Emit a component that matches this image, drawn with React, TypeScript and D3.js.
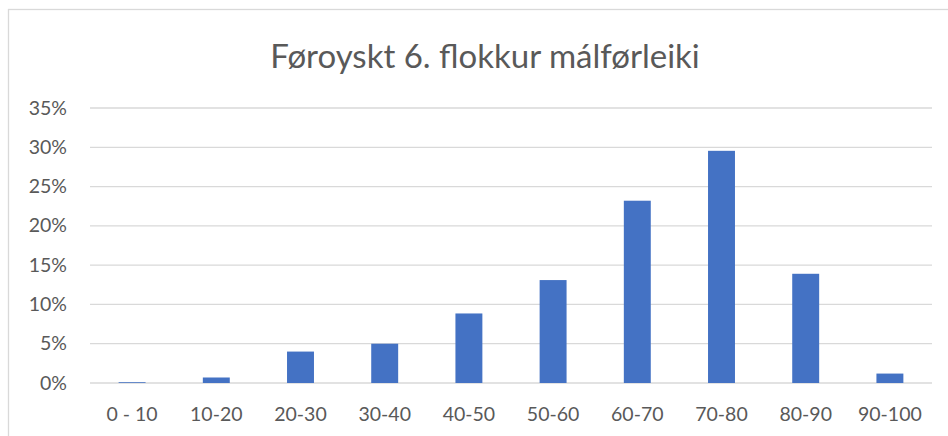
import React, { useEffect, useRef } from 'react';
import * as d3 from 'd3';

const title = 'Føroyskt 6. flokkur málførleiki';
const categories = ['0 - 10', '10-20', '20-30', '30-40', '40-50', '50-60', '60-70', '70-80', '80-90', '90-100'];
const shares = [0.001, 0.007, 0.040, 0.050, 0.0885, 0.131, 0.232, 0.2955, 0.139, 0.012];
const yTicks = [0, 0.05, 0.1, 0.15, 0.2, 0.25, 0.3, 0.35];

const W = 948, H = 436;
const font = 'Lato, "Open Sans", sans-serif';

function draw(node: SVGSVGElement) {
  const svg = d3.select(node);
  svg.selectAll('*').remove();

  const margin = { top: 108, right: 16, bottom: 53, left: 90 };

  // chart frame (right/bottom edges fall outside the picture)
  svg.append('rect')
     .attr('x', 8.5).attr('y', 9.5)
     .attr('width', W).attr('height', H)
     .attr('fill', 'white')
     .attr('stroke', '#d9d9d9')
     .attr('stroke-width', 1.3);

  svg.append('text')
     .attr('x', 485).attr('y', 68)
     .attr('text-anchor', 'middle')
     .attr('font-family', font)
     .attr('font-size', 33)
     .attr('fill', '#595959')
     .text(title);

  const x = d3.scaleBand()
              .domain(categories)
              .range([margin.left, W - margin.right])
              .paddingInner(0.68)
              .paddingOuter(0.34);

  const y = d3.scaleLinear()
              .domain([0, 0.35])
              .range([H - margin.bottom, margin.top]);

  const grid = svg.append('g');
  grid.selectAll('line')
      .data(yTicks)
      .join('line')
      .attr('x1', margin.left).attr('x2', W - margin.right)
      .attr('y1', d => y(d)).attr('y2', d => y(d))
      .attr('stroke', '#d9d9d9')
      .attr('stroke-width', 1.3);

  svg.append('g')
     .selectAll('text')
     .data(yTicks)
     .join('text')
     .attr('x', 67)
     .attr('y', d => y(d) + 6.5)
     .attr('text-anchor', 'end')
     .attr('font-family', font)
     .attr('font-size', 19.5)
     .attr('fill', '#595959')
     .text(d => d3.format('.0%')(d));

  svg.append('g')
     .selectAll('rect')
     .data(shares)
     .join('rect')
     .attr('x', (d, i) => x(categories[i])!)
     .attr('width', x.bandwidth())
     .attr('y', d => y(d))
     .attr('height', d => y(0) - y(d))
     .attr('fill', '#4472c4');

  svg.append('g')
     .selectAll('text')
     .data(categories)
     .join('text')
     .attr('x', d => x(d)! + x.bandwidth() / 2)
     .attr('y', 421)
     .attr('text-anchor', 'middle')
     .attr('font-family', font)
     .attr('font-size', 19.5)
     .attr('fill', '#595959')
     .text(d => d);
}

export default function App() {
  const ref = useRef<SVGSVGElement>(null);

  useEffect(() => {
    if (ref.current) draw(ref.current);
  }, []);

  return (
    <div style={{ position: 'absolute', left: 0, top: 0 }}>
      <svg ref={ref} width={W} height={H} style={{ display: 'block', background: 'white' }} />
    </div>
  );
}
